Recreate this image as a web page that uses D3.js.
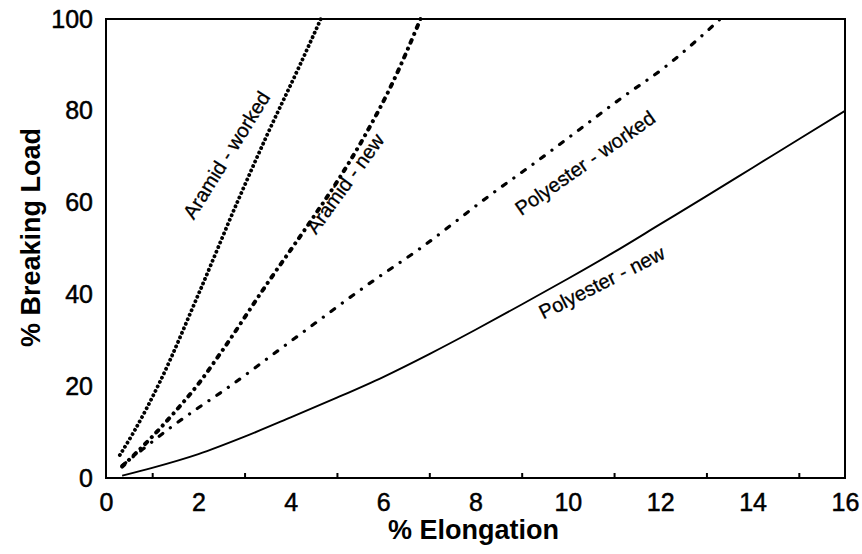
<!DOCTYPE html>
<html>
<head>
<meta charset="utf-8">
<script src="https://cdn.jsdelivr.net/npm/d3@7"></script>
<style>
  html, body { margin: 0; padding: 0; background: #fff; }
  svg { display: block; font-family: Arial, "Liberation Sans", Helvetica, sans-serif; }
</style>
</head>
<body>
<svg id="chart" width="862" height="554"></svg>
<script>
// Load-elongation curves for aramid and polyester ropes, new and worked.
const xTicks = [0, 2, 4, 6, 8, 10, 12, 14, 16];
const xMinorTicks = [1, 3, 5, 7, 9, 11, 13, 15];
const yTicks = [0, 20, 40, 60, 80, 100];

const aramidWorkedX = [0.3, 0.6, 1.17, 2.0, 2.86, 3.5, 4.2, 4.65];
const aramidWorkedY = [5, 10, 21, 40, 60.5, 75, 90, 100];

const aramidNewX = [0.35, 1.0, 1.5, 2.0, 2.5, 3.5, 4.4, 5.0, 5.6, 6.2, 6.81];
const aramidNewY = [2.5, 9, 14.5, 20.5, 27.5, 42.5, 55.5, 64.5, 74.5, 86, 100];

const polyWorkedX = [0.35, 0.8, 1.4, 2.0, 2.47, 4.0, 5.72, 6.8, 8.3, 9.33, 10.26, 11.19, 12.1, 13.3];
const polyWorkedY = [2.7, 6.3, 11, 15.3, 18.5, 29.8, 42.5, 50, 61.5, 69, 76, 83, 89.5, 100];

const polyNewX = [0.35, 1, 2, 3, 4, 5, 6, 7, 8, 9, 10, 11, 12, 13, 14, 15, 16];
const polyNewY = [0.5, 2.2, 5.2, 9, 13.2, 17.5, 22, 27, 32.3, 37.8, 43.4, 49.2, 55.3, 61.4, 67.6, 73.8, 80];

const seriesNames = ["Aramid - worked", "Aramid - new", "Polyester - worked", "Polyester - new"];

const svg = d3.select("#chart");
const m = { left: 106, right: 17, top: 19, bottom: 76 };
const W = 862, H = 554;
const x = d3.scaleLinear().domain([0, 16]).range([m.left, W - m.right]);
const y = d3.scaleLinear().domain([0, 100]).range([H - m.bottom, m.top]);

const zip = (xs, ys) => xs.map((v, i) => [v, ys[i]]);
const line = d3.line().x(d => x(d[0])).y(d => y(d[1])).curve(d3.curveMonotoneX);

svg.append("defs").append("clipPath").attr("id", "plot")
  .append("rect").attr("x", x(0)).attr("y", y(100) - 3)
  .attr("width", x(16) - x(0)).attr("height", y(0) - y(100) + 3);

const series = [
  { name: seriesNames[0], data: zip(aramidWorkedX, aramidWorkedY), width: 3.8, dash: "0.1 4.8" },
  { name: seriesNames[1], data: zip(aramidNewX, aramidNewY), width: 4.0, dash: "3 6.5 0.1 6.5" },
  { name: seriesNames[2], data: zip(polyWorkedX, polyWorkedY), width: 3.2, dash: "4.5 9.5 0.1 9.5" },
  { name: seriesNames[3], data: zip(polyNewX, polyNewY), width: 1.9, dash: null }
];

const plot = svg.append("g").attr("clip-path", "url(#plot)");
series.forEach(s => {
  plot.append("path")
    .datum(s.data)
    .attr("d", line)
    .attr("fill", "none")
    .attr("stroke", "#000")
    .attr("stroke-width", s.width)
    .attr("stroke-linecap", s.dash ? "round" : "butt")
    .attr("stroke-dasharray", s.dash);
});

// frame
svg.append("rect")
  .attr("x", x(0)).attr("y", y(100))
  .attr("width", x(16) - x(0)).attr("height", y(0) - y(100))
  .attr("fill", "none").attr("stroke", "#000").attr("stroke-width", 2);

const styleTickText = sel => sel
  .attr("font-size", 25).attr("fill", "#000")
  .attr("stroke", "#000").attr("stroke-width", 0.5)
  .attr("font-family", "Arial, 'Liberation Sans', sans-serif");

// x axis: labels at even values, short inward ticks at odd values
const xAxis = svg.append("g").attr("transform", `translate(0,${y(0)})`)
  .call(d3.axisBottom(x).tickValues(xTicks).tickSize(0).tickPadding(15).tickFormat(d3.format("d")));
xAxis.select(".domain").remove();
xAxis.selectAll("text").call(styleTickText);

const xMinor = svg.append("g").attr("transform", `translate(0,${y(0)})`)
  .call(d3.axisTop(x).tickValues(xMinorTicks).tickSize(5).tickFormat(""));
xMinor.select(".domain").remove();
xMinor.selectAll("line").attr("stroke", "#000").attr("stroke-width", 2);

const yAxis = svg.append("g").attr("transform", `translate(${x(0)},0)`)
  .call(d3.axisLeft(y).tickValues(yTicks).tickSize(0).tickPadding(13).tickFormat(d3.format("d")));
yAxis.select(".domain").remove();
yAxis.selectAll("text").call(styleTickText);

// axis titles
svg.append("text")
  .attr("x", (x(0) + x(16)) / 2 - 2).attr("y", 539)
  .attr("text-anchor", "middle").attr("font-size", 27).attr("font-weight", "bold")
  .text("% Elongation");

svg.append("text")
  .attr("transform", `translate(40,${(y(0) + y(100)) / 2 - 11}) rotate(-90)`)
  .attr("text-anchor", "middle").attr("font-size", 27).attr("font-weight", "bold")
  .text("% Breaking Load");

// curve labels
const labels = [
  { text: seriesNames[0], cx: 226.5, cy: 155, angle: -58 },
  { text: seriesNames[1], cx: 345, cy: 183.5, angle: -54 },
  { text: seriesNames[2], cx: 585, cy: 163, angle: -35 },
  { text: seriesNames[3], cx: 601.7, cy: 282.5, angle: -26.6 }
];
svg.selectAll("text.curve-label").data(labels).join("text")
  .attr("class", "curve-label")
  .attr("transform", d => `translate(${d.cx},${d.cy}) rotate(${d.angle})`)
  .attr("text-anchor", "middle").attr("dy", "0.35em")
  .attr("font-size", 20).attr("fill", "#000")
  .attr("stroke", "#000").attr("stroke-width", 0.3)
  .text(d => d.text);
</script>
</body>
</html>
